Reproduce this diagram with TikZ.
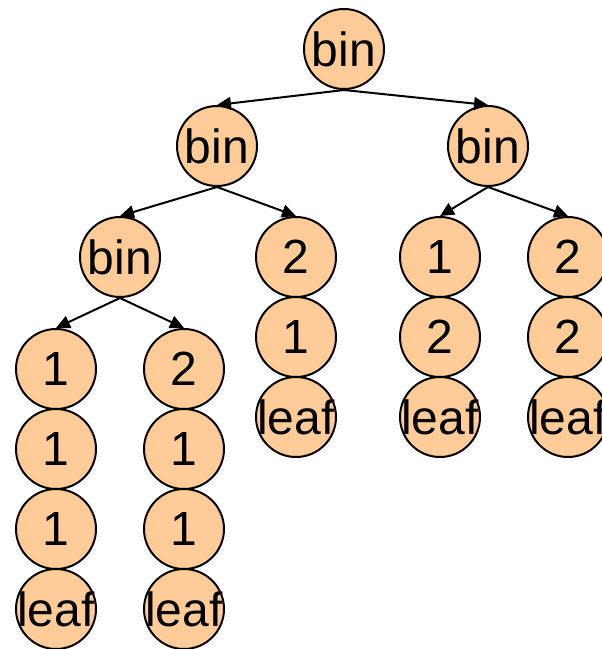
\documentclass[tikz,border=0pt]{standalone}
\usepackage{fontspec}
\setmainfont{Liberation Sans}
\usetikzlibrary{arrows.meta}
\definecolor{nodefill}{RGB}{255,204,153}
\newcommand{\nodetext}[1]{\makebox[0pt][c]{#1}}
\begin{document}
\begin{tikzpicture}[x=1pt,y=-1pt,
  tnode/.style={circle,draw=black,line width=2pt,fill=nodefill,minimum size=80pt,inner sep=0pt,
    font=\fontsize{48}{48}\selectfont},
  edge/.style={line width=2pt,-{Triangle[length=14pt,width=13pt]}}]
\useasboundingbox (0,0) rectangle (602,649);
% level 1
\node[tnode] (r) at (344,49) {\nodetext{bin}};
% level 2
\node[tnode] (l) at (217,146) {\nodetext{bin}};
\node[tnode] (rr) at (488,146) {\nodetext{bin}};
% level 3
\node[tnode] (ll) at (120,257) {\nodetext{bin}};
\node[tnode] (lr1) at (296,257) {\nodetext{2}};
\node[tnode] (lr2) at (296,337) {\nodetext{1}};
\node[tnode] (lr3) at (296,417) {\nodetext{leaf}};
\node[tnode] (rl1) at (440,257) {\nodetext{1}};
\node[tnode] (rl2) at (440,337) {\nodetext{2}};
\node[tnode] (rl3) at (440,417) {\nodetext{leaf}};
\node[tnode] (rr1) at (568,257) {\nodetext{2}};
\node[tnode] (rr2) at (568,337) {\nodetext{2}};
\node[tnode] (rr3) at (568,417) {\nodetext{leaf}};
% level 4
\node[tnode] (a1) at (56,369) {\nodetext{1}};
\node[tnode] (a2) at (56,449) {\nodetext{1}};
\node[tnode] (a3) at (56,529) {\nodetext{1}};
\node[tnode] (a4) at (56,609) {\nodetext{leaf}};
\node[tnode] (b1) at (184,369) {\nodetext{2}};
\node[tnode] (b2) at (184,449) {\nodetext{1}};
\node[tnode] (b3) at (184,529) {\nodetext{1}};
\node[tnode] (b4) at (184,609) {\nodetext{leaf}};
% edges
\draw[edge] (r.south) -- (l.north);
\draw[edge] (r.south) -- (rr.north);
\draw[edge] (l.south) -- (ll.north);
\draw[edge] (l.south) -- (lr1.north);
\draw[edge] (rr.south) -- (rl1.north);
\draw[edge] (rr.south) -- (rr1.north);
\draw[edge] (ll.south) -- (a1.north);
\draw[edge] (ll.south) -- (b1.north);
\end{tikzpicture}
\end{document}
